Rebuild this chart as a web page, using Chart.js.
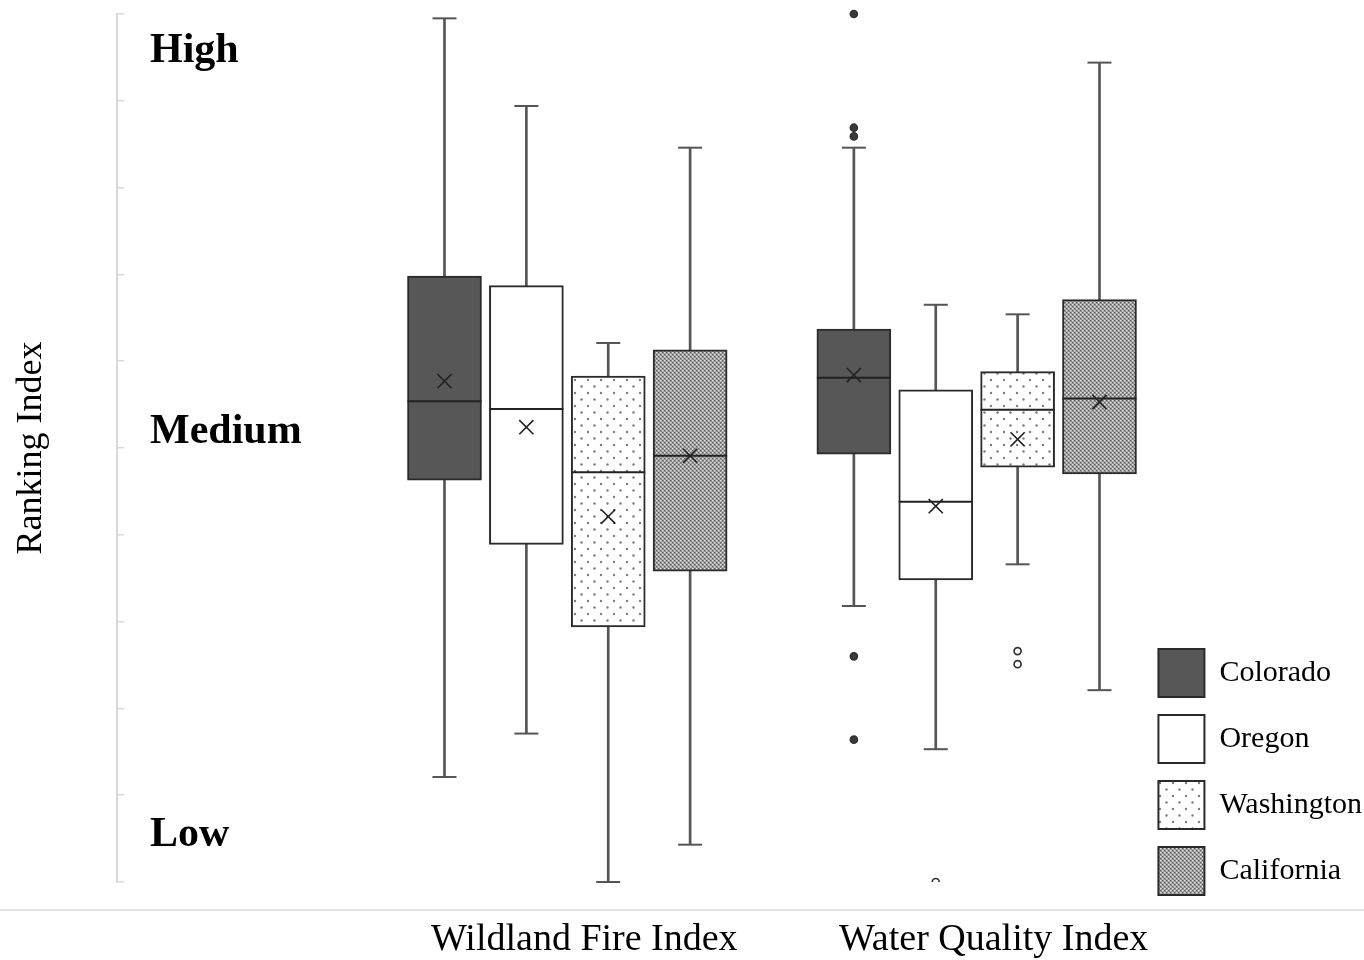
<!DOCTYPE html>
<html><head><meta charset="utf-8">
<script src="https://cdn.jsdelivr.net/npm/chart.js@4.4.1/dist/chart.umd.min.js"></script>
<style>html,body{margin:0;padding:0;background:#fff}#wrap{width:1364px;height:960px}canvas{display:block}</style>
</head><body><div id="wrap"><canvas id="c" width="1364" height="960"></canvas></div>
<script>
// ---------------- DATA ----------------
const categories = ['Wildland Fire Index', 'Water Quality Index'];
const states = ['Colorado', 'Oregon', 'Washington', 'California'];
const levelLabels = ['High', 'Medium', 'Low'];
// each row: one state, [Wildland Fire Index, Water Quality Index]
const whiskerMin = [[1.21, 3.18], [1.71, 1.53], [0.00, 3.66], [0.43, 2.21]];
const q1Vals     = [[4.63, 4.93], [3.89, 3.48], [2.94, 4.78], [3.58, 4.70]];
const medianVals = [[5.54, 5.81], [5.45, 4.38], [4.72, 5.44], [4.91, 5.57]];
const meanVals   = [[5.77, 5.84], [5.24, 4.33], [4.21, 5.10], [4.91, 5.53]];
const q3Vals     = [[6.98, 6.37], [6.87, 5.67], [5.83, 5.88], [6.13, 6.71]];
const whiskerMax = [[9.95, 8.46], [8.94, 6.65], [6.21, 6.54], [8.46, 9.44]];
const outlierVals = [
  [[], [10.0, 8.69, 8.59, 2.60, 1.64]],
  [[], [0.0]],
  [[], [2.66, 2.51]],
  [[], []]
];

// ---------------- STYLE ----------------
const SERIF = "'Liberation Serif', 'Times New Roman', serif";
function makePattern(w, h, draw) {
  const c = document.createElement('canvas');
  c.width = w; c.height = h;
  const g = c.getContext('2d');
  draw(g);
  return document.getElementById('c').getContext('2d').createPattern(c, 'repeat');
}
const dotPattern = makePattern(13, 13, g => {
  g.fillStyle = '#ffffff'; g.fillRect(0, 0, 13, 13);
  g.fillStyle = '#7c7c7c';
  g.beginPath(); g.arc(3, 3, 1.2, 0, Math.PI * 2); g.fill();
  g.beginPath(); g.arc(9.5, 9.5, 1.2, 0, Math.PI * 2); g.fill();
});
const hatchPattern = makePattern(4, 4, g => {
  g.fillStyle = '#8e8e8e'; g.fillRect(0, 0, 4, 4);
  g.fillStyle = '#e2e2e2'; g.fillRect(0, 0, 1.5, 1.5); g.fillRect(2, 2, 1.5, 1.5);
  g.fillStyle = '#5c5c5c'; g.fillRect(2, 0, 1, 1); g.fillRect(0, 2, 1, 1);
});
const fills = ['#575757', '#ffffff', dotPattern, hatchPattern];
const outlierFill = ['#3a3a3a', '#ffffff', '#ffffff', '#ffffff'];
const offsets = [-0.3, -0.1, 0.1, 0.3];
const xPos = (ci, si) => ci + 1 + offsets[si];

// ---------------- DATASETS ----------------
const datasets = [];
states.forEach((s, si) => {
  datasets.push({
    type: 'bar', label: s, isBox: true, order: 2, grouped: false,
    data: categories.map((c, ci) => ({x: xPos(ci, si), y: [q1Vals[si][ci], q3Vals[si][ci]]})),
    backgroundColor: fills[si], borderColor: '#2a2a2a', borderWidth: 2, borderSkipped: false,
    categoryPercentage: 1, barPercentage: 1, maxBarThickness: 74
  });
});
states.forEach((s, si) => {
  datasets.push({
    type: 'bar', label: s + ' whisker', order: 3, grouped: false,
    data: categories.map((c, ci) => ({x: xPos(ci, si), y: [whiskerMin[si][ci], whiskerMax[si][ci]]})),
    backgroundColor: '#555555', borderWidth: 0,
    categoryPercentage: 1, barPercentage: 1, maxBarThickness: 2
  });
  datasets.push({
    type: 'scatter', label: s + ' caps', order: 1, clip: false,
    data: categories.flatMap((c, ci) => [
      {x: xPos(ci, si), y: whiskerMin[si][ci]}, {x: xPos(ci, si), y: whiskerMax[si][ci]}]),
    pointStyle: 'line', pointRadius: 12, pointHoverRadius: 12, borderColor: '#555555', borderWidth: 2
  });
  datasets.push({
    type: 'scatter', label: s + ' median', order: 1, clip: false,
    data: categories.map((c, ci) => ({x: xPos(ci, si), y: medianVals[si][ci]})),
    pointStyle: 'line', pointRadius: 37, pointHoverRadius: 37, borderColor: '#222222', borderWidth: 2
  });
  datasets.push({
    type: 'scatter', label: s + ' mean', order: 1, clip: false,
    data: categories.map((c, ci) => ({x: xPos(ci, si), y: meanVals[si][ci]})),
    pointStyle: 'crossRot', pointRadius: 10, pointHoverRadius: 10, borderColor: '#222222', borderWidth: 1.6
  });
  datasets.push({
    type: 'scatter', label: s + ' outliers', order: 1,
    clip: {left: false, top: false, right: false, bottom: 0},
    data: categories.flatMap((c, ci) => outlierVals[si][ci].map(v => ({x: xPos(ci, si), y: v}))),
    pointStyle: 'circle', pointRadius: 3.5, pointHoverRadius: 3.5,
    backgroundColor: outlierFill[si], borderColor: '#333333', borderWidth: 1.7
  });
});

// ---------------- DECORATION PLUGIN ----------------
const decor = {
  id: 'decor',
  afterDraw(chart) {
    const {ctx, scales: {y}, chartArea} = chart;
    ctx.save();
    // baseline rule under the plot
    ctx.strokeStyle = '#e3e3e3'; ctx.lineWidth = 2;
    ctx.beginPath(); ctx.moveTo(0, 910); ctx.lineTo(chart.width, 910); ctx.stroke();
    // High / Medium / Low
    const at = [9.45, 5.06, 0.42];
    ctx.fillStyle = '#000'; ctx.font = 'bold 42px ' + SERIF;
    ctx.textAlign = 'left'; ctx.textBaseline = 'alphabetic';
    levelLabels.forEach((t, i) => ctx.fillText(t, chartArea.left + 33, y.getPixelForValue(at[i])));
    ctx.restore();
  }
};

new Chart(document.getElementById('c'), {
  type: 'bar',
  data: {datasets},
  options: {
    responsive: false, animation: false, devicePixelRatio: 1,
    events: [],
    layout: {autoPadding: false, padding: {top: 14, bottom: 0, left: 0, right: -8}},
    plugins: {
      tooltip: {enabled: false},
      legend: {
        position: 'right', align: 'start', fullSize: true,
        title: {display: true, text: ' ', font: {size: 10}, padding: {top: 0, bottom: 605}},
        labels: {
          filter: (item, data) => !!data.datasets[item.datasetIndex].isBox,
          boxWidth: 46, boxHeight: 48, padding: 18, color: '#000',
          font: {family: SERIF, size: 30}
        }
      }
    },
    scales: {
      x: {
        type: 'linear', min: -0.1, max: 2.4, offset: false,
        grid: {display: false}, border: {display: false},
        afterBuildTicks: s => { s.ticks = categories.map((c, i) => ({value: i + 1})); },
        afterFit: s => { s.height = 78; },
        ticks: {
          callback: (v, i) => categories[i], autoSkip: false, maxRotation: 0,
          font: {family: SERIF, size: 38}, color: '#000', padding: 27, labelOffset: 17
        }
      },
      y: {
        min: 0, max: 10,
        afterFit: s => { s.width = 117; },
        ticks: {stepSize: 1, display: false},
        grid: {drawOnChartArea: false, drawTicks: true, tickLength: -7, color: '#d9d9d9', lineWidth: 1.5},
        border: {display: true, color: '#d9d9d9', width: 2},
        title: {display: true, text: 'Ranking Index', color: '#000',
                font: {family: SERIF, size: 36}, padding: {top: 10, bottom: 0}}
      }
    }
  },
  plugins: [decor]
});
</script>
</body></html>
